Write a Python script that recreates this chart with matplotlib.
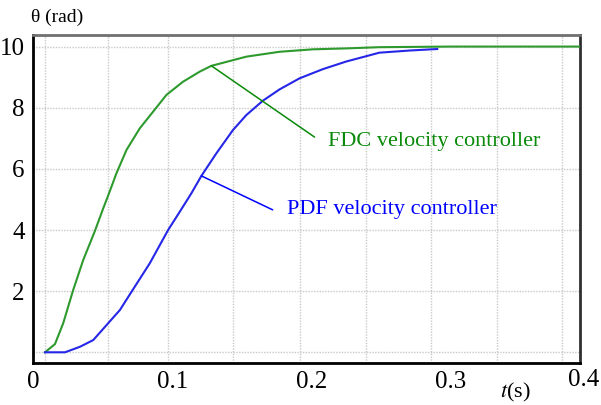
import numpy as np
import matplotlib
matplotlib.use("Agg")
import matplotlib.pyplot as plt

plt.rcParams.update({
    "font.family": ["Liberation Serif", "DejaVu Serif"],
    "mathtext.fontset": "stix",
})

# ---------------------------------------------------------------------------
# data (time in s, angle in rad)
# ---------------------------------------------------------------------------
t_fdc = [0.0086, 0.0158, 0.0217, 0.0289, 0.0361, 0.0445, 0.0504, 0.0552,
         0.0600, 0.0672, 0.0768, 0.0863, 0.0959, 0.1078, 0.1198, 0.1282,
         0.1533, 0.1772, 0.2011, 0.2250, 0.2489, 0.3000, 0.3500, 0.3930]
th_fdc = [0.0, 0.27, 0.95, 2.04, 3.02, 3.97, 4.70, 5.27,
          5.86, 6.62, 7.33, 7.87, 8.42, 8.85, 9.18, 9.37,
          9.67, 9.83, 9.91, 9.94, 9.98, 10.0, 10.0, 10.0]

t_pdf = [0.0086, 0.0230, 0.0337, 0.0433, 0.0540, 0.0624, 0.0708, 0.0839,
         0.0971, 0.1055, 0.1138, 0.1210, 0.1318, 0.1437, 0.1533, 0.1652,
         0.1772, 0.1915, 0.2082, 0.2250, 0.2489, 0.2704, 0.2905]
th_pdf = [0.0, 0.0, 0.18, 0.40, 0.95, 1.38, 1.98, 2.91,
          4.00, 4.60, 5.20, 5.77, 6.51, 7.27, 7.76, 8.23,
          8.60, 8.96, 9.26, 9.51, 9.80, 9.87, 9.92]

x_ticks = [0.0, 0.1, 0.2, 0.3]
x_tick_labels = ["0", "0.1", "0.2", "0.3"]
x_grid = [0.0086, 0.0538, 0.0968, 0.1435, 0.1922, 0.2396, 0.2862, 0.3336, 0.3802]
y_ticks = [0, 2, 4, 6, 8, 10]
y_tick_labels = ["", "2", "4", "6", "8", "10"]

GREEN_LINE = "#2e9a2e"
GREEN_TEXT = "#0a8a0a"
BLUE_LINE = "#2626e8"
BLUE_TEXT = "#0000ff"

fig = plt.figure(figsize=(6.01, 4.05), dpi=100)
ax = fig.add_axes([0.0549, 0.1037, 0.910, 0.810])

ax.plot(t_fdc, th_fdc, color=GREEN_LINE, lw=1.5, zorder=3)
ax.plot(t_pdf, th_pdf, color=BLUE_LINE, lw=1.5, zorder=3)

ax.set_xlim(0, 0.393)
ax.set_ylim(-0.35, 10.38)

ax.set_xticks(x_ticks)
ax.set_xticklabels(x_tick_labels)
ax.set_xticks(x_grid, minor=True)
ax.set_yticks(y_ticks)
ax.set_yticklabels(y_tick_labels)
ax.tick_params(axis="both", which="both", length=0, labelsize=18)
ax.tick_params(axis="x", pad=6)
ax.tick_params(axis="y", pad=6)
ax.grid(False)
ax.grid(True, axis="x", which="minor", color="#c8c8c8", ls=(0, (1, 1)), lw=1.0)
ax.grid(True, axis="y", which="major", color="#c8c8c8", ls=(0, (1, 1)), lw=1.0)
ax.set_axisbelow(True)

# lone "0.4" label sits past the right edge
ax.text(0.3955, -0.052, "0.4", transform=ax.get_xaxis_transform(), ha="center",
        va="center", fontsize=18, clip_on=False)

for side in ("left", "bottom"):
    ax.spines[side].set_color("black")
    ax.spines[side].set_linewidth(2.0)
for side in ("top", "right"):
    ax.spines[side].set_color("#707070")
    ax.spines[side].set_linewidth(2.0)
ax.spines["right"].set_color("#303030")

# call-out lines + labels
i_g = 15
ax.annotate("", xy=(t_fdc[i_g], th_fdc[i_g]), xytext=(0.2023, 7.04),
            arrowprops=dict(arrowstyle="-", color=GREEN_TEXT, lw=1.1,
                            shrinkA=0, shrinkB=0))
ax.text(0.2123, 6.88, "FDC velocity controller", color=GREEN_TEXT,
        fontsize=16, ha="left", va="center")

i_b = 11
ax.annotate("", xy=(t_pdf[i_b], th_pdf[i_b]), xytext=(0.1722, 4.66),
            arrowprops=dict(arrowstyle="-", color=BLUE_TEXT, lw=1.1,
                            shrinkA=0, shrinkB=0))
ax.text(0.1822, 4.66, "PDF velocity controller", color=BLUE_TEXT,
        fontsize=16, ha="left", va="center")

fig.text(57 / 601, 1 - 17 / 405, "θ (rad)", fontsize=14, ha="center", va="center")
fig.text(515 / 601, 1 - 392 / 405, "$t$(s)", fontsize=16, ha="center", va="center")

fig.savefig("out.png", dpi=100)
